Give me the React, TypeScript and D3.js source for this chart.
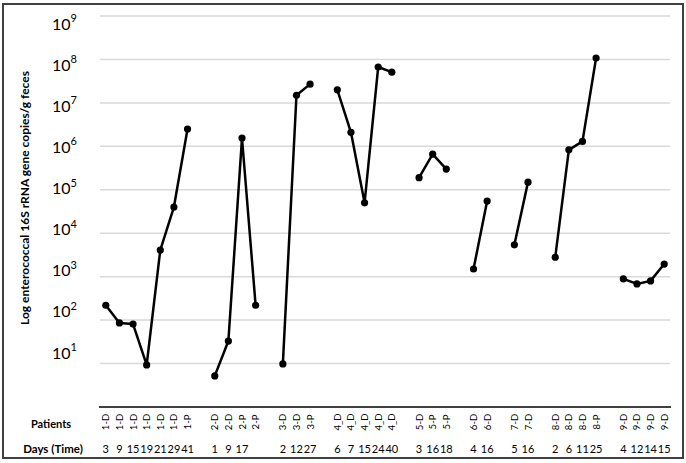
import React from "react";
import * as d3 from "d3";

const patientLabels: string[] = [
  "1-D", "1-D", "1-D", "1-D", "1-D", "1-D", "1-P", "",
  "2-D", "2-D", "2-P", "2-P", "",
  "3-D", "3-D", "3-P", "",
  "4_D", "4_D", "4_D", "4_D", "4_D", "",
  "5-D", "5-P", "5-P", "",
  "6-D", "6-D", "",
  "7-D", "7-D", "",
  "8-D", "8-D", "8-D", "8-P", "",
  "9-D", "9-D", "9-D", "9-D",
];

const dayLabels: string[] = [
  "3", "9", "15", "19", "21", "29", "41", "",
  "1", "9", "17", "", "",
  "2", "12", "27", "",
  "6", "7", "15", "24", "40", "",
  "3", "16", "18", "",
  "4", "16", "",
  "5", "16", "",
  "2", "6", "11", "25", "",
  "4", "12", "14", "15",
];

const copies: (number | null)[] = [
  220, 86, 81, 9.3, 4100, 40000, 2.5e6, null,
  5.2, 33, 1.55e6, 220, null,
  9.8, 1.5e7, 2.7e7, null,
  2e7, 2.1e6, 5e4, 6.7e7, 5.1e7, null,
  1.9e5, 6.6e5, 3e5, null,
  1500, 5.5e4, null,
  5400, 1.5e5, null,
  2800, 8.3e5, 1.3e6, 1.08e8, null,
  890, 680, 800, 1950,
];

const tickExponents: number[] = [1, 2, 3, 4, 5, 6, 7, 8, 9];

const W = 686;
const H = 463;
const FONT = "Lato, 'Open Sans', sans-serif";

export default function App() {
  const idx = copies.map((_, i) => i);
  const x = d3.scaleBand<number>().domain(idx).range([99, 671]);
  const cx = (i: number) => (x(i) as number) + x.bandwidth() / 2;
  const y = d3.scaleLog().domain([1, 1e9]).range([407, 16]);
  const labelY = d3.scaleLinear().domain([1, 9]).range([352, 23]);

  const line = d3
    .line<number | null>()
    .defined((d) => d !== null)
    .x((_, i) => cx(i))
    .y((d) => y(d as number));

  return (
    <svg
      width={W}
      height={H}
      style={{ position: "absolute", left: 0, top: 0, background: "#fff" }}
      fontFamily={FONT}
    >
      <rect x={0} y={0} width={W} height={H} fill="#fff" />
      {tickExponents.map((e) => (
        <line
          key={"g" + e}
          x1={100}
          x2={670}
          y1={y(Math.pow(10, e))}
          y2={y(Math.pow(10, e))}
          stroke="#d9d9d9"
          strokeWidth={1.5}
        />
      ))}
      <line x1={99} x2={671} y1={y(1)} y2={y(1)} stroke="#000" strokeWidth={1.5} />
      {tickExponents.map((e) => (
        <text
          key={"t" + e}
          x={52}
          y={labelY(e)}
          dominantBaseline="central"
          fontSize={16}
          fill="#000"
        >
          10
          <tspan fontSize={11} dy={-6}>
            {e}
          </tspan>
        </text>
      ))}
      <text
        transform={`translate(24,198) rotate(-90)`}
        textAnchor="middle"
        dominantBaseline="central"
        fontSize={12}
        fontWeight="bold"
      >
        Log enterococcal 16S rRNA gene copies/g feces
      </text>
      <path d={line(copies) || ""} fill="none" stroke="#000" strokeWidth={2.5} strokeLinejoin="round" />
      {copies.map((v, i) =>
        v === null ? null : <circle key={"c" + i} cx={cx(i)} cy={y(v)} r={3.6} fill="#000" />
      )}
      <text x={51} y={423} textAnchor="middle" dominantBaseline="central" fontSize={11} fontWeight="bold">
        Patients
      </text>
      <text x={53} y={448} textAnchor="middle" dominantBaseline="central" fontSize={11.5} fontWeight="bold">
        Days (Time)
      </text>
      {patientLabels.map((p, i) =>
        p ? (
          <text
            key={"p" + i}
            transform={`translate(${cx(i)},422) rotate(-90)`}
            textAnchor="middle"
            dominantBaseline="central"
            fontSize={9.5}
          >
            {p}
          </text>
        ) : null
      )}
      {dayLabels.map((d, i) =>
        d ? (
          <text key={"d" + i} x={cx(i)} y={448} textAnchor="middle" dominantBaseline="central" fontSize={11}>
            {d}
          </text>
        ) : null
      )}
      <rect x={3} y={4} width={680} height={454} fill="none" stroke="#404040" strokeWidth={2} />
    </svg>
  );
}
